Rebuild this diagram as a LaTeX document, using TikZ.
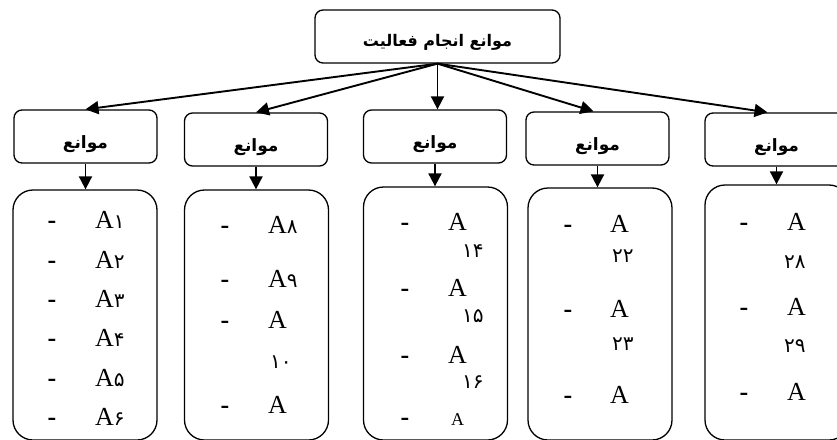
\documentclass[tikz,border=0pt]{standalone}
\usepackage{fontspec}
\setmainfont{Liberation Serif}
\newfontfamily\farsi[Script=Arabic]{DejaVu Sans}
\TeXXeTstate=1
\usetikzlibrary{arrows.meta}
\newcommand{\fa}[1]{{\farsi\bfseries\beginR #1\endR}}
\newcommand{\pnum}[1]{{\farsi\fontsize{20}{20}\selectfont #1}}
\begin{document}
\begin{tikzpicture}[x=1pt,y=-1pt,
    headbox/.style={draw,line width=1.3pt,rounded corners=8pt,inner sep=0pt,
      minimum width=143pt,minimum height=53pt,text height=24pt,text depth=0pt,
      font=\fontsize{17}{19}\selectfont},
    listbox/.style={draw,line width=1.3pt,rounded corners=20pt,
      minimum width=144pt},
    hyph/.style={anchor=base,inner sep=0pt,font=\fontsize{26}{26}\selectfont\bfseries},
    ent/.style={anchor=base west,inner sep=0pt,font=\fontsize{26}{26}\selectfont},
    link/.style={line width=1.9pt,-{Triangle[length=13pt,width=13pt]}}]
  \useasboundingbox (0,0) rectangle (837,439);
  \clip (0,0) rectangle (837,439);
  % boxes
  \node[headbox,minimum width=245pt,text height=20pt,font=\fontsize{16}{18}\selectfont] (top) at (437.5,36.5) {\fa{موانع انجام فعالیت}};
  \node[headbox] (h1) at (85.5,136.5) {\fa{موانع}};
  \node[headbox] (h2) at (256,139.5) {\fa{موانع}};
  \node[headbox] (h3) at (435,136.5) {\fa{موانع}};
  \node[headbox] (h4) at (597.5,138.5) {\fa{موانع}};
  \node[headbox] (h5) at (776.5,139.5) {\fa{موانع}};
  \node[listbox,minimum height=250pt] (l1) at (85,315) {};
  \node[listbox,minimum height=250pt] (l2) at (256.5,315) {};
  \node[listbox,minimum height=253pt] (l3) at (435.5,313.5) {};
  \node[listbox,minimum height=252pt] (l4) at (600,314) {};
  \node[listbox,minimum height=255pt] (l5) at (777,312.5) {};
  % arrows
  \begin{scope}[link]
    \draw (top.south) to (h1.north);
    \draw (top.south) to (h2.north);
    \draw (top.south) to (top.south |- h3.north);
    \draw (top.south) to ([xshift=-4pt]h4.north);
    \draw (top.south) to ([xshift=-9pt]h5.north);
    \draw (h1.south) to (h1.south |- l1.north);
    \draw (h2.south) to (h2.south |- l2.north);
    \draw (h3.south) to (h3.south |- l3.north);
    \draw (h4.south) to (h4.south |- l4.north);
    \draw (h5.south) to (h5.south |- l5.north);
  \end{scope}
  % first list
  \begin{scope}[every node/.append style={font=\fontsize{21}{21}\selectfont}]
    \node[hyph] (d11) at (52,228) {\bfseries -};
    \node[ent] (a11) at (95,228) {A\pnum{۱}};
    \node[hyph] (d12) at (52,268) {\bfseries -};
    \node[ent] (a12) at (95,268) {A\pnum{۲}};
    \node[hyph] (d13) at (52,307) {\bfseries -};
    \node[ent] (a13) at (95,307) {A\pnum{۳}};
    \node[hyph] (d14) at (52,346) {\bfseries -};
    \node[ent] (a14) at (95,346) {A\pnum{۴}};
    \node[hyph] (d15) at (52,386) {\bfseries -};
    \node[ent] (a15) at (95,386) {A\pnum{۵}};
    \node[hyph] (d16) at (52,425) {\bfseries -};
    \node[ent] (a16) at (95,425) {A\pnum{۶}};
  \end{scope}
  % second list
  \node[hyph] (d21) at (225,233) {-};
  \node[ent] (a21) at (268,233) {A\pnum{۸}};
  \node[hyph] (d22) at (225,287) {-};
  \node[ent] (a22) at (268,287) {A\pnum{۹}};
  \node[hyph] (d23) at (225,328) {-};
  \node[ent] (a23) at (268,328) {A};
  \node[ent] (n23) at (270,368) {\pnum{۱۰}};
  \node[hyph] (d24) at (225,413) {-};
  \node[ent] (a24) at (268,413) {A};
  % third list
  \node[hyph] (d31) at (405,230) {-};
  \node[ent] (a31) at (448,230) {A};
  \node[ent] (n31) at (462,257) {\pnum{۱۴}};
  \node[hyph] (d32) at (405,296) {-};
  \node[ent] (a32) at (448,296) {A};
  \node[ent] (n32) at (462,322) {\pnum{۱۵}};
  \node[hyph] (d33) at (405,363) {-};
  \node[ent] (a33) at (448,363) {A};
  \node[ent] (n33) at (462,388) {\pnum{۱۶}};
  \node[hyph] (d34) at (405,425) {-};
  \node[ent,font=\fontsize{18}{18}\selectfont] (a34) at (451,425) {A};
  % fourth list
  \node[hyph] (d41) at (568,232) {-};
  \node[ent] (a41) at (610,232) {A};
  \node[ent] (n41) at (612,262) {\pnum{۲۲}};
  \node[hyph] (d42) at (568,317) {-};
  \node[ent] (a42) at (610,317) {A};
  \node[ent] (n42) at (612,350) {\pnum{۲۳}};
  \node[hyph] (d43) at (568,403) {-};
  \node[ent] (a43) at (610,403) {A};
  % fifth list
  \node[hyph] (d51) at (744,230) {-};
  \node[ent] (a51) at (787,230) {A};
  \node[ent] (n51) at (784,268) {\pnum{۲۸}};
  \node[hyph] (d52) at (744,315) {-};
  \node[ent] (a52) at (787,315) {A};
  \node[ent] (n52) at (784,352) {\pnum{۲۹}};
  \node[hyph] (d53) at (744,400) {-};
  \node[ent] (a53) at (787,400) {A};
\end{tikzpicture}
\end{document}
